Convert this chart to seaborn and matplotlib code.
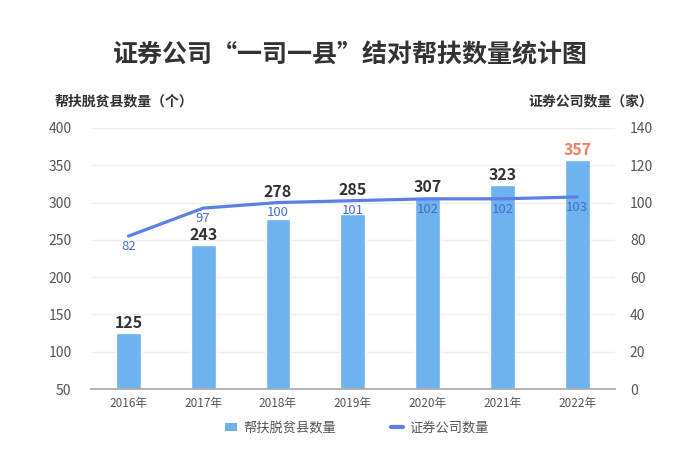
import numpy as np
import pandas as pd
import matplotlib
matplotlib.use("Agg")
import matplotlib.pyplot as plt
import seaborn as sns
from matplotlib.lines import Line2D
from matplotlib.patches import FancyBboxPatch

# data
years = ["2016年", "2017年", "2018年", "2019年", "2020年", "2021年", "2022年"]
counties = [125, 243, 278, 285, 307, 323, 357]
companies = [82, 97, 100, 101, 102, 102, 103]

BAR_C = "#6cb3f0"
LINE_C = "#5b7fe6"
LBL_C = "#4a6cc8"
GRID_C = "#eeeeee"
TICK_C = "#555555"

sns.set_theme(style="white")
plt.rcParams["font.family"] = ["Noto Sans CJK SC", "DejaVu Sans"]

df = pd.DataFrame({"year": years, "counties": counties, "companies": companies})

fig = plt.figure(figsize=(7, 4.67), dpi=100)
ax = fig.add_axes([0.13, 0.167, 0.748, 0.559])

sns.barplot(data=df, x="year", y="counties", color=BAR_C, width=0.33,
            saturation=1, ax=ax, zorder=2)
ax.set_ylim(50, 400)
ax.set_yticks(range(50, 401, 50))
ax.set_xlim(-0.5, len(years) - 0.5)
ax.grid(axis="y", color=GRID_C, lw=1, zorder=0)
ax.set_xlabel("")
ax.set_ylabel("")
for s in ["top", "right", "left"]:
    ax.spines[s].set_visible(False)
ax.spines["bottom"].set_color("#aaaaaa")
ax.tick_params(axis="y", length=0, labelsize=10, colors=TICK_C, pad=14)
ax.tick_params(axis="x", length=0, labelsize=8.5, colors=TICK_C, pad=6)
ax.set_xticks(np.arange(-0.5, len(years)), minor=True)
ax.tick_params(axis="x", which="minor", length=4, color="#aaaaaa", direction="out")

ax2 = ax.twinx()
sns.lineplot(x=np.arange(len(years)), y=companies, color=LINE_C, lw=2.3, ax=ax2, zorder=3)
ax2.set_ylim(0, 140)
ax2.set_yticks(range(0, 141, 20))
for s in ["top", "right", "left", "bottom"]:
    ax2.spines[s].set_visible(False)
ax2.tick_params(axis="y", length=0, labelsize=10, colors=TICK_C, pad=11)
for i, v in enumerate(companies):
    ax2.text(i, v - 2, str(v), ha="center", va="top", fontsize=9.5, color=LBL_C, zorder=6)

# bar labels: lifted above the line when the bar top sits just under it
for i, v in enumerate(counties):
    line_left = 50 + companies[i] / 140 * 350
    y = max(v, line_left) if line_left - v < 30 else v
    ax2.text(i, (y + 3 - 50) / 350 * 140, str(v), ha="center", va="bottom", fontsize=11.5,
             fontweight="bold", color="#f07f5f" if i == len(counties) - 1 else "#333333", zorder=5)

fig.text(0.5, 0.882, "证券公司“一司一县”结对帮扶数量统计图", ha="center", va="center",
         fontsize=18, fontweight="bold", color="#333333")
fig.text(0.078, 0.782, "帮扶脱贫县数量（个）", ha="left", va="center",
         fontsize=10, fontweight="bold", color="#333333")
fig.text(0.933, 0.782, "证券公司数量（家）", ha="right", va="center",
         fontsize=10, fontweight="bold", color="#333333")

handles = [FancyBboxPatch((0, 0), 1, 1, boxstyle="round,pad=0.1", facecolor=BAR_C, edgecolor="none"),
           Line2D([0], [0], color=LINE_C, lw=3)]
fig.legend(handles, ["帮扶脱贫县数量", "证券公司数量"], loc="center",
           bbox_to_anchor=(0.51, 0.083), ncol=2, frameon=False, fontsize=9.5,
           handlelength=0.9, handleheight=0.6, handletextpad=0.5, columnspacing=4.2,
           labelcolor=TICK_C)

fig.savefig("out.png", dpi=100)
